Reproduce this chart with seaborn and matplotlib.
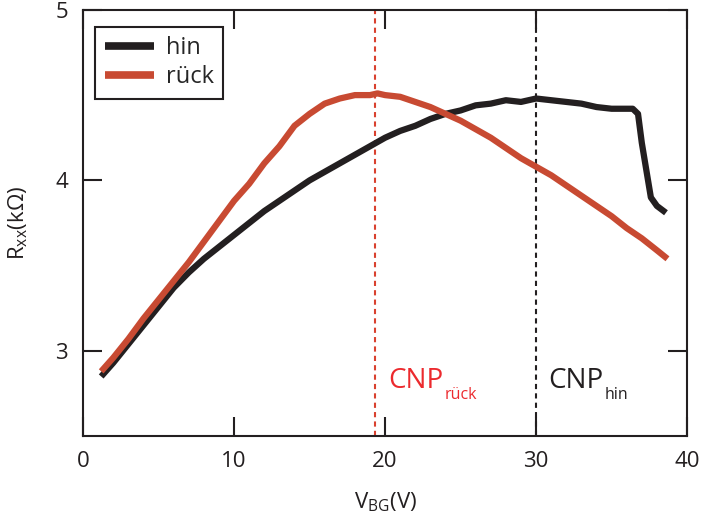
import matplotlib
matplotlib.use("Agg")
import matplotlib.pyplot as plt
import seaborn as sns
import pandas as pd

# Back-gate sweep, forward ("hin")
v_hin = [1.2, 2, 3, 4, 5, 6, 7, 8, 9, 10, 11, 12, 13, 14, 15, 16, 17, 18, 19, 20,
         21, 22, 23, 24, 25, 26, 27, 28, 29, 30, 31, 32, 33, 34, 35, 36, 36.4,
         36.75, 37.0, 37.3, 37.6, 38.0, 38.6]
r_hin = [2.85, 2.93, 3.04, 3.15, 3.26, 3.37, 3.46, 3.54, 3.61, 3.68, 3.75, 3.82,
         3.88, 3.94, 4.00, 4.05, 4.10, 4.15, 4.20, 4.25, 4.29, 4.32, 4.36, 4.39,
         4.41, 4.44, 4.45, 4.47, 4.46, 4.48, 4.47, 4.46, 4.45, 4.43, 4.42, 4.42,
         4.42, 4.39, 4.22, 4.06, 3.90, 3.85, 3.81]

# Back-gate sweep, backward ("rück")
v_rueck = [1.2, 2, 3, 4, 5, 6, 7, 8, 9, 10, 11, 12, 13, 14, 15, 16, 17, 18, 19,
           19.5, 20, 21, 22, 23, 24, 25, 26, 27, 28, 29, 30, 31, 32, 33, 34, 35,
           36, 37, 38, 38.7]
r_rueck = [2.88, 2.96, 3.07, 3.19, 3.30, 3.41, 3.52, 3.64, 3.76, 3.88, 3.98,
           4.10, 4.20, 4.32, 4.39, 4.45, 4.48, 4.50, 4.50, 4.51, 4.50, 4.49,
           4.46, 4.43, 4.39, 4.35, 4.30, 4.25, 4.19, 4.13, 4.08, 4.03, 3.97,
           3.91, 3.85, 3.79, 3.72, 3.66, 3.59, 3.54]

# Charge neutrality points
cnp_rueck = 19.3
cnp_hin = 30.0

x_ticks = [0, 10, 20, 30, 40]
y_ticks = [3, 4, 5]

sns.set_theme(style="ticks")
plt.rcParams["font.family"] = ["Open Sans", "DejaVu Sans"]
plt.rcParams["mathtext.fontset"] = "custom"
plt.rcParams["mathtext.rm"] = "Open Sans"
plt.rcParams["mathtext.it"] = "Open Sans"
plt.rcParams["lines.solid_capstyle"] = "butt"

BLACK = "#231f20"
RED_LINE = "#c84a32"
RED_DASH = "#d9412f"
RED_TEXT = "#ec2a2e"

df = pd.concat([
    pd.DataFrame({"V": v_hin, "R": r_hin, "sweep": "hin"}),
    pd.DataFrame({"V": v_rueck, "R": r_rueck, "sweep": "rück"}),
])

fig = plt.figure(figsize=(7.04, 5.18), dpi=100)
ax = fig.add_axes([0.118, 0.158, 0.858, 0.823])

sns.lineplot(data=df, x="V", y="R", hue="sweep", sort=False,
             palette={"hin": BLACK, "rück": RED_LINE}, linewidth=4.5,
             ax=ax, legend=True)

ax.axvline(cnp_rueck, color=RED_DASH, linestyle=(0, (2.5, 2)), linewidth=1.5, zorder=1)
ax.axvline(cnp_hin, color=BLACK, linestyle=(0, (2.5, 2)), linewidth=1.5, zorder=1)

ax.set_xlim(0, 40)
ax.set_ylim(2.5, 5)
ax.set_xticks(x_ticks)
ax.set_yticks(y_ticks)
ax.set_xlabel(r"V$_{\mathrm{BG}}$(V)", fontsize=16, color=BLACK, labelpad=13)
ax.set_ylabel(r"R$_{\mathrm{xx}}$(kΩ)", fontsize=16, color=BLACK, labelpad=18)

ax.tick_params(direction="in", length=14, width=1.5, colors=BLACK,
               labelsize=16, top=True, right=True, pad=11)
for s in ax.spines.values():
    s.set_linewidth(1.5)
    s.set_color(BLACK)
    s.set_visible(True)

leg = ax.legend(loc="upper left", fontsize=17, frameon=True, fancybox=False,
                handlelength=2.1, handletextpad=0.5, borderpad=0.4,
                labelspacing=0.2, borderaxespad=0,
                bbox_to_anchor=(0.02, 0.96))
leg.get_frame().set_edgecolor(BLACK)
leg.get_frame().set_linewidth(1.5)
leg.get_frame().set_alpha(1)
for line in leg.get_lines():
    line.set_linewidth(5.5)

# CNP labels: main text plus a small lowered subscript
base_y = 2.782
sub_y = 2.718
for xpos, main, sub, col in [(cnp_rueck + 0.9, "CNP", "rück", RED_TEXT),
                             (cnp_hin + 0.8, "CNP", "hin", BLACK)]:
    t = ax.text(xpos, base_y, main, color=col, fontsize=20,
                va="baseline", ha="left")
    fig.canvas.draw()
    bb = t.get_window_extent()
    x1 = ax.transData.inverted().transform((bb.x1, bb.y0))[0]
    ax.text(x1 + 0.1, sub_y, sub, color=col, fontsize=11.5,
            va="baseline", ha="left")

fig.savefig("out.png", dpi=100)
